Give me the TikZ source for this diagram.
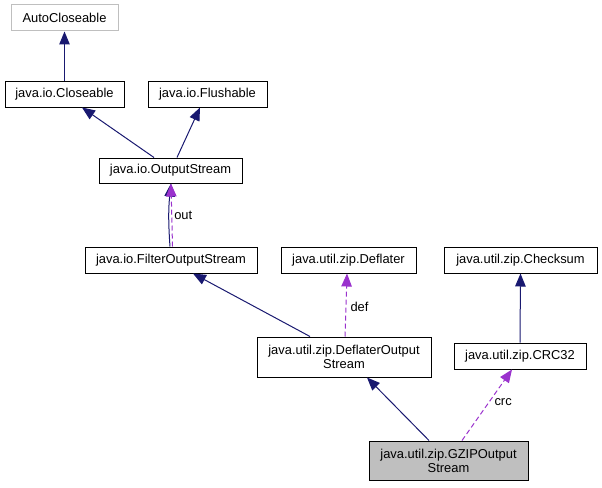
\documentclass[tikz,border=0pt]{standalone}
\usepackage{fontspec}
\setmainfont{Liberation Sans}
\usetikzlibrary{arrows.meta}
\definecolor{navyline}{HTML}{191970}
\definecolor{purpleline}{HTML}{9A32CD}
\definecolor{grayfill}{HTML}{BFBFBF}

\begin{document}
\begin{tikzpicture}[x=1pt, y=-1pt,
    cls/.style={draw=black, line width=1pt, fill=white, inner sep=0pt, align=center,
        font=\fontsize{12.9}{14}\selectfont},
    lbl/.style={inner sep=1pt, text=black, font=\fontsize{12.9}{14}\selectfont},
    inh/.style={color=navyline, line width=1pt, -{Triangle[length=13pt,width=10.5pt]}},
    use/.style={color=purpleline, line width=1pt, dash pattern=on 5pt off 3pt,
        -{Triangle[length=13pt,width=10.5pt]}}]
\useasboundingbox (0,0) rectangle (602,487);

    % class boxes
    \node [cls, draw=grayfill, minimum width=107pt, minimum height=26pt] (autoclose) at (64.5,18) {AutoCloseable};
    \node [cls, minimum width=119pt, minimum height=26pt] (closeable) at (64.5,94) {java.io.Closeable};
    \node [cls, minimum width=119pt, minimum height=26pt] (flushable) at (207.5,94) {java.io.Flushable};
    \node [cls, minimum width=143pt, minimum height=25pt] (output) at (170.5,170.5) {java.io.OutputStream};
    \node [cls, minimum width=172pt, minimum height=26pt] (filter) at (171,260) {java.io.FilterOutputStream};
    \node [cls, minimum width=135pt, minimum height=26pt] (deflater) at (348.5,260) {java.util.zip.Deflater};
    \node [cls, minimum width=153pt, minimum height=26pt] (checksum) at (520.5,260) {java.util.zip.Checksum};
    \node [cls, minimum width=174pt, minimum height=40pt] (deflos) at (344,357) {java.util.zip.DeflaterOutput\\Stream};
    \node [cls, minimum width=132pt, minimum height=26pt] (crc) at (520,356) {java.util.zip.CRC32};
    \node [cls, fill=grayfill, minimum width=159pt, minimum height=39pt] (gzip) at (448.5,460.5) {java.util.zip.GZIPOutput\\Stream};

    % inheritance
    \draw [inh] (closeable.north) -- (autoclose.south);
    \draw [inh] ([xshift=-16.5pt]output.north) -- ([xshift=17.5pt]closeable.south);
    \draw [inh] ([xshift=6.5pt]output.north) -- ([xshift=-7.5pt]flushable.south);
    \draw [inh] ([xshift=-1pt]filter.north) to [bend left=5] ([xshift=0.5pt]output.south);
    \draw [inh] ([xshift=-34pt]deflos.north) -- ([xshift=22pt]filter.south);
    \draw [inh] (crc.north) -- (checksum.south);
    \draw [inh] ([xshift=-19.5pt]gzip.north) -- ([xshift=23pt]deflos.south);

    % usage
    \draw [use] ([xshift=1.5pt]filter.north) -- node [lbl, right, xshift=1pt] (outlbl) {out} ([xshift=0.5pt]output.south);
    \draw [use] ([xshift=1pt]deflos.north) -- node [lbl, right, xshift=3pt, yshift=-2pt] (deflbl) {def} ([xshift=-1.5pt]deflater.south);
    \draw [use] ([xshift=13.5pt]gzip.north) -- node [lbl, right, xshift=6pt, yshift=3pt] (crclbl) {crc} ([xshift=-8pt]crc.south);

\end{tikzpicture}
\end{document}
